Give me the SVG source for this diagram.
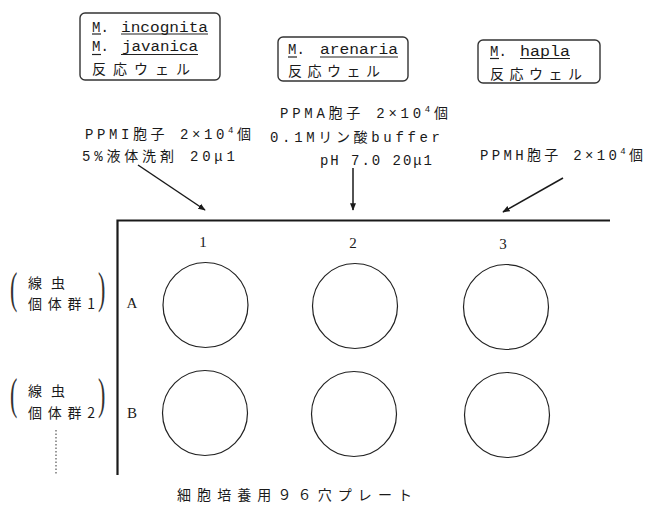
<svg xmlns="http://www.w3.org/2000/svg" width="646" height="506" viewBox="0 0 646 506">
<defs>
<style>
.t{font-family:"Liberation Mono","Noto Sans CJK JP",monospace;font-size:14px;fill:#1a1a1a}
.j{font-family:"Noto Sans CJK JP","Liberation Serif",sans-serif;font-size:14px;fill:#1a1a1a}
.m{font-family:"Liberation Mono","Noto Sans CJK JP",monospace;font-size:14px;fill:#1a1a1a}
.n{font-family:"Liberation Serif","Noto Sans CJK JP",serif;font-size:15px;fill:#1a1a1a}
.box{fill:none;stroke:#333;stroke-width:1.4}
.ul{stroke:#222;stroke-width:1.2}
.well{fill:none;stroke:#222;stroke-width:1.2}
.plate{stroke:#1a1a1a;stroke-width:2.2;fill:none}
.arr{stroke:#1a1a1a;stroke-width:1.5;fill:none;marker-end:url(#ah)}
.par{font-family:"Liberation Serif",serif;font-size:20px;fill:#333}
</style>
<marker id="ah" viewBox="0 0 10 10" refX="9" refY="5" markerWidth="5" markerHeight="5" orient="auto" markerUnits="strokeWidth">
<path d="M0,1 L10,5 L0,9 z" fill="#1a1a1a"/>
</marker>
</defs>

<g id="well-box-1">
<rect class="box" x="80" y="13" width="140" height="67" rx="5"/>
<text class="m" x="92" y="31.5">M.</text>
<text class="m" x="121" y="31.5" textLength="87" lengthAdjust="spacingAndGlyphs">incognita</text>
<line class="ul" x1="92" y1="34" x2="101" y2="34"/>
<line class="ul" x1="121" y1="34" x2="208" y2="34"/>
<text class="m" x="92" y="50.5">M.</text>
<text class="m" x="122" y="50.5" textLength="76" lengthAdjust="spacingAndGlyphs">javanica</text>
<line class="ul" x1="92" y1="54.5" x2="101" y2="54.5"/>
<line class="ul" x1="121" y1="54.5" x2="198" y2="54.5"/>
<text class="j" x="92" y="74" textLength="98" lengthAdjust="spacing">反応ウェル</text>
</g>

<g id="well-box-2">
<rect class="box" x="278" y="37" width="130" height="44" rx="5"/>
<text class="m" x="288" y="54">M.</text>
<text class="m" x="320" y="54" textLength="78" lengthAdjust="spacingAndGlyphs">arenaria</text>
<line class="ul" x1="288" y1="57" x2="297" y2="57"/>
<line class="ul" x1="320" y1="57" x2="398" y2="57"/>
<text class="j" x="288" y="75.5" textLength="92" lengthAdjust="spacing">反応ウェル</text>
</g>

<g id="well-box-3">
<rect class="box" x="478" y="40" width="122" height="43" rx="5"/>
<text class="m" x="490" y="56">M.</text>
<text class="m" x="520" y="56" textLength="50" lengthAdjust="spacingAndGlyphs">hapla</text>
<line class="ul" x1="490" y1="58.5" x2="499" y2="58.5"/>
<line class="ul" x1="520" y1="58.5" x2="570" y2="58.5"/>
<text class="j" x="490" y="78.5" textLength="92" lengthAdjust="spacing">反応ウェル</text>
</g>

<g id="label-ppmi">
<text class="t" x="85" y="139" textLength="166" lengthAdjust="spacing">PPMI胞子 2×10<tspan font-size="9" dy="-6">4</tspan><tspan dy="6">個</tspan></text>
<text class="t" x="82" y="161" textLength="153" lengthAdjust="spacing">5%液体洗剤 20μ1</text>
</g>

<g id="label-ppma">
<text class="t" x="280" y="118" textLength="168" lengthAdjust="spacing">PPMA胞子 2×10<tspan font-size="9" dy="-6">4</tspan><tspan dy="6">個</tspan></text>
<text class="t" x="270" y="142" textLength="170" lengthAdjust="spacing">0.1Mリン酸buffer</text>
<text class="t" x="320" y="165" textLength="112" lengthAdjust="spacing">pH 7.0 20μ1</text>
</g>

<g id="label-ppmh">
<text class="t" x="480" y="160" textLength="163" lengthAdjust="spacing">PPMH胞子 2×10<tspan font-size="9" dy="-6">4</tspan><tspan dy="6">個</tspan></text>
</g>

<g id="connectors">
<line class="arr" x1="138" y1="165" x2="205" y2="210"/>
<line class="arr" x1="353" y1="168" x2="353" y2="210"/>
<line class="arr" x1="563" y1="178" x2="503" y2="212"/>
</g>

<g id="plate">
<polyline class="plate" points="610,220.5 117.5,220.5 117.5,475"/>
<text class="n" x="203" y="247" text-anchor="middle">1</text>
<text class="n" x="353" y="248" text-anchor="middle">2</text>
<text class="n" x="503" y="249" text-anchor="middle">3</text>
<text class="n" x="132" y="308" text-anchor="middle" font-size="14">A</text>
<text class="n" x="132" y="418" text-anchor="middle" font-size="14">B</text>
</g>

<g id="well-A1"><circle class="well" cx="205.5" cy="305" r="42.5"/></g>
<g id="well-A2"><circle class="well" cx="355" cy="306" r="42.5"/></g>
<g id="well-A3"><circle class="well" cx="506" cy="307" r="42.5"/></g>
<g id="well-B1"><circle class="well" cx="205" cy="413" r="42.5"/></g>
<g id="well-B2"><circle class="well" cx="354" cy="414" r="42.5"/></g>
<g id="well-B3"><circle class="well" cx="507" cy="415" r="42.5"/></g>

<g id="group-1">
<text class="par" transform="translate(10,303) scale(1.1,2.25)">(</text>
<text class="j" x="28" y="287.5" textLength="37" lengthAdjust="spacing">線虫</text>
<text class="j" x="28" y="308.5" textLength="67" lengthAdjust="spacing">個体群1</text>
<text class="par" transform="translate(98,303) scale(1.1,2.25)">)</text>
</g>

<g id="group-2">
<text class="par" transform="translate(10,409) scale(1.1,2.25)">(</text>
<text class="j" x="28" y="395.5" textLength="37" lengthAdjust="spacing">線虫</text>
<text class="j" x="28" y="417.5" textLength="67" lengthAdjust="spacing">個体群2</text>
<text class="par" transform="translate(98,409) scale(1.1,2.25)">)</text>
<line x1="56" y1="430" x2="56" y2="475" stroke="#555" stroke-width="1.2" stroke-dasharray="1.5,2"/>
</g>

<g id="caption">
<text class="j" x="177" y="500" textLength="235" lengthAdjust="spacing">細胞培養用９６穴プレート</text>
</g>
</svg>
